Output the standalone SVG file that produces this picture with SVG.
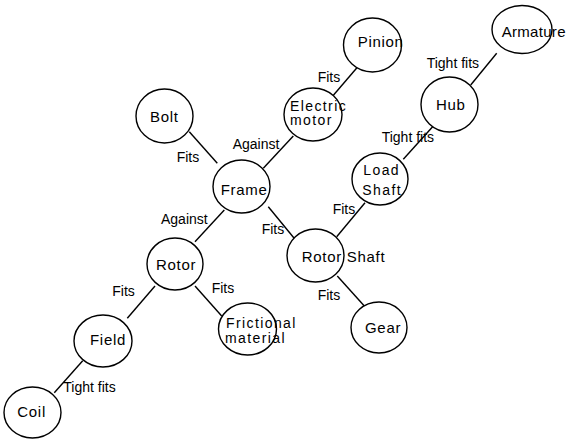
<svg xmlns="http://www.w3.org/2000/svg" width="566" height="439" viewBox="0 0 566 439">
<style>
.n ellipse{fill:#fff;stroke:#000;stroke-width:1.4}
.n text{font-family:"Liberation Sans",Arial,sans-serif;font-size:15px;letter-spacing:0.7px;fill:#000}
.n text.two{font-size:14px;letter-spacing:1.4px}
#edges line{stroke:#000;stroke-width:1.4}
.l{font-family:"Liberation Sans",Arial,sans-serif;font-size:14px;fill:#000}
</style>
<rect width="566" height="439" fill="#fff"/>
<g id="edges">
<line x1="189.3" y1="131.7" x2="217.3" y2="163.3"/>
<line x1="263.3" y1="168.3" x2="293.3" y2="136"/>
<line x1="329.3" y1="100" x2="359.3" y2="65"/>
<line x1="403.3" y1="159.3" x2="433.3" y2="126"/>
<line x1="470.7" y1="85" x2="496.7" y2="53.3"/>
<line x1="195" y1="241.7" x2="224.3" y2="210"/>
<line x1="268.3" y1="206.7" x2="295" y2="239.3"/>
<line x1="336.7" y1="236.7" x2="365" y2="202.7"/>
<line x1="337.3" y1="276" x2="365" y2="306.7"/>
<line x1="155" y1="286" x2="127.3" y2="318.3"/>
<line x1="195" y1="286" x2="221.7" y2="316"/>
<line x1="82.7" y1="360.7" x2="54.3" y2="392.7"/>
<text class="l" x="176.7" y="161.7">Fits</text>
<text class="l" x="232.7" y="149">Against</text>
<text class="l" x="317.7" y="82">Fits</text>
<text class="l" x="381.7" y="142">Tight fits</text>
<text class="l" x="426.7" y="68">Tight fits</text>
<text class="l" x="161" y="224">Against</text>
<text class="l" x="261.7" y="234">Fits</text>
<text class="l" x="332.7" y="214">Fits</text>
<text class="l" x="317.7" y="299.5">Fits</text>
<text class="l" x="112.3" y="296">Fits</text>
<text class="l" x="211.7" y="293">Fits</text>
<text class="l" x="63.3" y="392">Tight fits</text>
</g>
<g id="pinion" class="n"><ellipse cx="372.5" cy="45" rx="29" ry="27"/><text x="357.7" y="46.7">Pinion</text></g>
<g id="electric-motor" class="n"><ellipse cx="313" cy="114.5" rx="29" ry="26.5"/><text class="two" x="290" y="110.8">Electric<tspan x="290" y="125.3">motor</tspan></text></g>
<g id="bolt" class="n"><ellipse cx="164.5" cy="116" rx="28.5" ry="27"/><text x="150" y="121.7">Bolt</text></g>
<g id="frame" class="n"><ellipse cx="241.5" cy="186.5" rx="28.5" ry="26.5"/><text x="220.7" y="195">Frame</text></g>
<g id="load-shaft" class="n"><ellipse cx="380" cy="179" rx="28" ry="26"/><text class="two" x="363.3" y="175">Load<tspan x="362.3" y="195">Shaft</tspan></text></g>
<g id="armature" class="n"><ellipse cx="522" cy="29.5" rx="30" ry="24"/><text x="501.7" y="37.3" style="letter-spacing:0.3px">Armature</text></g>
<g id="hub" class="n"><ellipse cx="449.5" cy="104.5" rx="28.5" ry="27.5"/><text x="436" y="110">Hub</text></g>
<g id="rotor" class="n"><ellipse cx="175" cy="264" rx="28" ry="26"/><text x="156" y="270">Rotor</text></g>
<g id="field" class="n"><ellipse cx="103" cy="341" rx="29" ry="26"/><text x="90" y="345">Field</text></g>
<g id="coil" class="n"><ellipse cx="32.5" cy="412.5" rx="28.5" ry="25.5"/><text x="17.3" y="416.7">Coil</text></g>
<g id="frictional-material" class="n"><ellipse cx="247.5" cy="329" rx="29" ry="26"/><text class="two" x="226" y="328.3">Frictional<tspan x="225" y="342.7">material</tspan></text></g>
<g id="rotor-shaft" class="n"><ellipse cx="315.5" cy="255.5" rx="28.5" ry="26.5"/><text x="301.7" y="261.7">Rotor Shaft</text></g>
<g id="gear" class="n"><ellipse cx="379" cy="327.5" rx="28" ry="25.5"/><text x="365" y="333">Gear</text></g>
</svg>
